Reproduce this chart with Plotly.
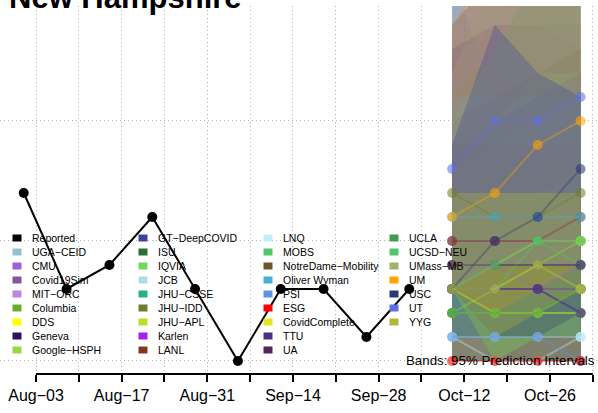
import plotly.graph_objects as go

# ---- data -----------------------------------------------------------------
reported_dates = ["2020-08-01", "2020-08-08", "2020-08-15", "2020-08-22", "2020-08-29",
                  "2020-09-05", "2020-09-12", "2020-09-19", "2020-09-26", "2020-10-03"]
reported_vals = [7, 3, 4, 6, 3, 0, 3, 3, 1, 3]

forecast_dates = ["2020-10-10", "2020-10-17", "2020-10-24", "2020-10-31"]

models = ["UGA−CEID", "CMU", "Covid19Sim", "MIT−ORC", "Columbia", "DDS", "Geneva", "Google−HSPH",
          "GT−DeepCOVID", "ISU", "IQVIA", "JCB", "JHU−CSSE", "JHU−IDD", "JHU−APL", "Karlen", "LANL",
          "LNQ", "MOBS", "NotreDame−Mobility", "Oliver Wyman", "PSI", "ESG", "CovidComplete", "TTU", "UA",
          "UCLA", "UCSD−NEU", "UMass−MB", "UM", "USC", "UT", "YYG"]

model_colors = ["#96BECE", "#A35ED6", "#8A55A0", "#BC85E0", "#6CAA30", "#FFFF00", "#2A1262", "#96D843",
                "#4040A0", "#2E6B36", "#73D656", "#AEDDEA", "#27B086", "#6E7D2E", "#BADF28", "#A61FF0", "#853622",
                "#BFF0FA", "#55C46A", "#6D5628", "#4AADD8", "#5F92E2", "#FF0000", "#DDE61E", "#4A2E8A", "#532560",
                "#469A50", "#52C66E", "#9DB26C", "#FFA500", "#2C3775", "#6070E0", "#B2B738"]

# medians, one row per model (same order as models)
median_vals = [
    [3, 3, 3, 3], [4, 4, 3, 4], [5, 5, 5, 5], [3, 3, 3, 2], [4, 4, 4, 5], [2, 2, 2, 2],
    [3, 3, 3, 2], [2, 3, 4, 5], [3, 4, 4, 4], [2, 2, 2, 3], [2, 2, 2, 2], [1, 1, 1, 1],
    [3, 3, 3, 3], [7, 6, 6, 7], [3, 4, 5, 5], [3, 3, 3, 3], [5, 5, 5, 6], [1, 0, 0, 1],
    [3, 3, 5, 4], [3, 3, 3, 3], [6, 6, 6, 6], [1, 1, 1, 0], [0, 0, 0, 0], [3, 2, 2, 3],
    [3, 3, 3, 2], [4, 4, 4, 4], [2, 2, 2, 3], [3, 4, 5, 5], [3, 3, 4, 3], [6, 7, 9, 10],
    [3, 5, 6, 8], [8, 10, 10, 11], [3, 3, 4, 3],
]

# 95% prediction interval bounds
lower_vals = [
    [0, 0, 0, 0], [0, 0, 0, 0], [1, 1, 1, 1], [0, 0, 0, 0], [0, 0, 0, 0], [2, 1, 2, 2],
    [1, 1, 0, 0], [0, 0, 0, 0], [0, 0, 0, 0], [0, 0, 0, 0], [0, 0, 0, 0], [0, 0, 0, 0],
    [0, 0, 0, 0], [3, 1, 1, 1], [3, 0, 1, 1], [3, 0, 0, 0], [1, 1, 1, 1], [0, 0, 0, 0],
    [3, 0, 1, 1], [3, 0, 0, 0], [2, 2, 2, 2], [0, 0, 0, 0], [0, 0, 0, 0], [3, 0, 1, 2],
    [3, 0, 0, 0], [1, 1, 1, 1], [0, 0, 0, 0], [3, 0, 1, 1], [3, 0, 0, 0], [3, 2, 3, 4],
    [3, 1, 1, 2], [3, 4, 4, 4], [3, 1, 2, 3],
]
upper_vals = [
    [16, 11, 10, 10], [13, 14, 14, 13], [13, 14, 14, 14], [12, 14, 12, 11], [11, 13, 16, 17], [6, 7, 7, 7],
    [6, 6, 7, 7], [8, 10, 12, 13], [9, 10, 11, 12], [6, 6, 7, 8], [5, 5, 6, 6], [9, 9, 10, 10],
    [8, 8, 8, 8], [15, 17, 18, 19], [8, 9, 10, 11], [7, 8, 8, 8], [14, 16, 16, 17], [4, 4, 4, 4],
    [10, 13, 16, 18], [10, 11, 12, 13], [11, 11, 11, 11], [4, 5, 5, 5], [1, 1, 1, 1], [7, 8, 8, 9],
    [8, 10, 11, 12], [9, 9, 9, 9], [6, 7, 7, 8], [8, 10, 12, 12], [12, 16, 17, 18], [14, 17, 19, 21],
    [9, 14, 12, 11], [16, 18, 19, 20], [7, 7, 7, 7],
]

tick_dates = ["2020-08-03", "2020-08-10", "2020-08-17", "2020-08-24", "2020-08-31", "2020-09-07",
              "2020-09-14", "2020-09-21", "2020-09-28", "2020-10-05", "2020-10-12", "2020-10-19",
              "2020-10-26", "2020-11-02"]
tick_labels = ["Aug−03", "", "Aug−17", "", "Aug−31", "", "Sep−14", "", "Sep−28", "", "Oct−12", "",
               "Oct−26", ""]

# ---- layout helpers -------------------------------------------------------
W, H = 598, 413
TOP, BOTTOM = 6, 374
PLOT_H = BOTTOM - TOP
FONT = "Liberation Sans, Arial, sans-serif"


def rgba(hex_color, a):
    h = hex_color.lstrip("#")
    return "rgba(%d,%d,%d,%.2f)" % (int(h[0:2], 16), int(h[2:4], 16), int(h[4:6], 16), a)


def px(x):
    return x / W


def py(y):
    return (BOTTOM - y) / PLOT_H


fig = go.Figure()

# prediction bands
for name, col, lo, hi in zip(models, model_colors, lower_vals, upper_vals):
    fig.add_trace(go.Scatter(
        x=forecast_dates + forecast_dates[::-1],
        y=hi + lo[::-1],
        fill="toself", fillcolor=rgba(col, 0.32),
        line=dict(width=0), mode="lines",
        hoverinfo="skip", showlegend=False,
    ))

# median forecasts
for name, col, med in zip(models, model_colors, median_vals):
    fig.add_trace(go.Scatter(
        x=forecast_dates, y=med, mode="lines+markers", name=name,
        line=dict(color=rgba(col, 0.36), width=2),
        marker=dict(color=rgba(col, 0.58), size=10),
        showlegend=False,
    ))

# reported
fig.add_trace(go.Scatter(
    x=reported_dates, y=reported_vals, mode="lines+markers", name="Reported",
    line=dict(color="black", width=2), marker=dict(color="black", size=10),
    showlegend=False,
))

# bottom axis line (from first to last tick, R style)
fig.add_shape(type="line", xref="x", yref="paper", x0=tick_dates[0], x1=tick_dates[-1],
              y0=0, y1=0, line=dict(color="black", width=2))

# hand-drawn legend, 4 columns of 9
legend_names = ["Reported"] + models
legend_colors = ["#000000"] + model_colors
col_x = [17, 143, 268, 394]
row_y0, row_dy = 238, 14
for i, (name, col) in enumerate(zip(legend_names, legend_colors)):
    cx = col_x[i // 9]
    cy = row_y0 + row_dy * (i % 9)
    fig.add_shape(type="rect", xref="paper", yref="paper",
                  x0=px(cx - 4.5), x1=px(cx + 4.5), y0=py(cy + 3.5), y1=py(cy - 3.5),
                  fillcolor=col, line=dict(width=0))
    fig.add_annotation(x=px(cx + 13), y=py(cy), xref="paper", yref="paper",
                       text=name, showarrow=False, xanchor="left", yanchor="middle",
                       font=dict(size=10.5, color="black", family=FONT))

fig.add_annotation(x=px(597), y=py(360), xref="paper", yref="paper",
                   text="Bands: 95% Prediction Intervals", showarrow=False,
                   xanchor="right", yanchor="middle",
                   font=dict(size=13.3, color="black", family=FONT))

# title, mostly cut off above the top edge
fig.add_annotation(x=px(7), y=py(-3), xref="paper", yref="paper",
                   text="<b>New Hampshire</b>", showarrow=False,
                   xanchor="left", yanchor="middle",
                   font=dict(size=31, color="black", family=FONT))

fig.update_xaxes(
    type="date", range=["2020-07-28 02:48", "2020-11-02 20:24"],
    tickmode="array", tickvals=tick_dates, ticktext=tick_labels,
    ticks="outside", ticklen=7, tickwidth=2, tickcolor="black",
    tickfont=dict(size=16, color="black", family=FONT),
    showgrid=True, gridcolor="#b0b0b0", griddash="1px,3px", gridwidth=1,
    showline=False, zeroline=False,
)
fig.update_yaxes(
    range=[-0.542, 14.79], tickmode="array", tickvals=[0, 5, 10],
    showticklabels=False, ticks="",
    showgrid=True, gridcolor="#b0b0b0", griddash="1px,3px", gridwidth=1,
    showline=False, zeroline=False,
)

fig.update_layout(
    width=W, height=H,
    margin=dict(l=0, r=0, t=TOP, b=H - BOTTOM),
    paper_bgcolor="white", plot_bgcolor="white",
    font=dict(family=FONT),
    showlegend=False,
)

# the page's default 8px body margin would shift the figure
fig.write_html("out.html", config={"displayModeBar": False},
               post_script="document.body.style.margin='0';")
